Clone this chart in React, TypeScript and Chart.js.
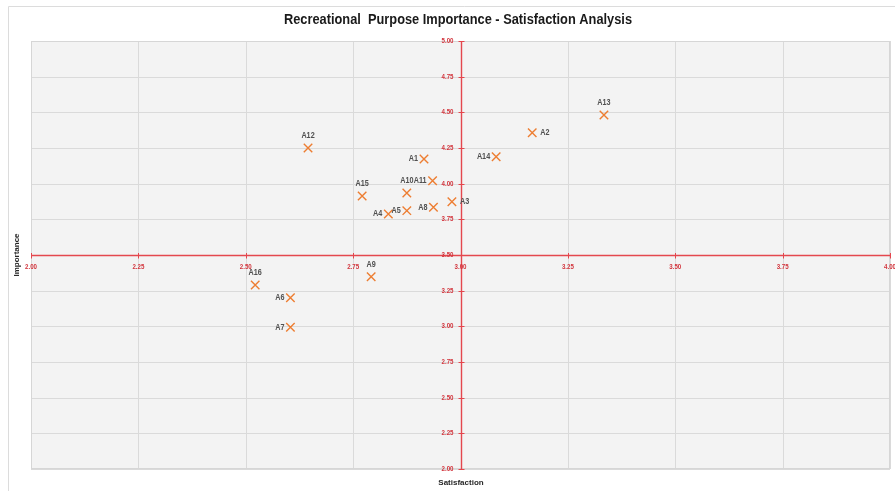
import React, { useEffect, useRef } from 'react';
import { Chart, registerables } from 'chart.js';
Chart.register(...registerables);

const chartTitle = 'Recreational  Purpose Importance - Satisfaction Analysis';
const xTitle = 'Satisfaction';
const yTitle = 'Importance';

const pointNames = ['A1', 'A2', 'A3', 'A4', 'A5', 'A6', 'A7', 'A8', 'A9', 'A10', 'A11', 'A12', 'A13', 'A14', 'A15', 'A16'];
const satisfaction = [2.915, 3.167, 2.98, 2.832, 2.875, 2.604, 2.604, 2.937, 2.792, 2.875, 2.935, 2.645, 3.334, 3.083, 2.771, 2.522];
const importance = [4.173, 4.357, 3.874, 3.788, 3.811, 3.201, 2.994, 3.835, 3.348, 3.935, 4.021, 4.25, 4.481, 4.189, 3.914, 3.29];
const labelSides = ['left', 'right', 'right', 'left', 'left', 'left', 'left', 'left', 'top', 'top', 'left', 'top', 'top', 'left', 'top', 'top'];

const xRange = [2, 4];
const yRange = [2, 5];
const xCross = 3.5; // x axis drawn at importance 3.5
const yCross = 3.0; // y axis drawn at satisfaction 3.0
const step = 0.25;

const RED = '#d2343c';
const AXIS_RED = '#e4474e';
const ORANGE = '#ED7D31';
const GRID = '#dadada';
const FONT = '"Liberation Sans", Arial, sans-serif';

function drawCondensed(ctx: any, text: string, x: number, y: number, align: string, sx: number) {
  ctx.save();
  ctx.translate(x, y);
  ctx.scale(sx, 1);
  ctx.textAlign = align;
  ctx.fillText(text, 0, 0);
  ctx.restore();
}

const bgPlugin = {
  id: 'bgPlugin',
  beforeDraw(chart: any) {
    const { ctx, chartArea } = chart;
    ctx.save();
    ctx.fillStyle = '#ffffff';
    ctx.fillRect(0, 0, chart.width, chart.height);
    // outer frame
    ctx.strokeStyle = '#dcdcdc';
    ctx.lineWidth = 1;
    ctx.beginPath();
    ctx.moveTo(8.5, chart.height);
    ctx.lineTo(8.5, 6.5);
    ctx.lineTo(chart.width, 6.5);
    ctx.stroke();
    // plot area
    ctx.fillStyle = '#f3f3f3';
    ctx.fillRect(chartArea.left, chartArea.top, chartArea.right - chartArea.left, chartArea.bottom - chartArea.top);
    // title, condensed to the reference width
    ctx.fillStyle = '#1a1a1a';
    ctx.font = 'bold 14px ' + FONT;
    ctx.textBaseline = 'middle';
    const w = ctx.measureText(chartTitle).width;
    drawCondensed(ctx, chartTitle, 458, 20, 'center', 348 / w);
    // axis titles
    ctx.font = 'bold 8px ' + FONT;
    ctx.fillStyle = '#262626';
    ctx.textAlign = 'center';
    ctx.fillText(xTitle, (chartArea.left + chartArea.right) / 2 + 0.5, 483);
    ctx.translate(17, (chartArea.top + chartArea.bottom) / 2);
    ctx.rotate(-Math.PI / 2);
    ctx.fillText(yTitle, 0, 0);
    ctx.restore();
  },
};

const axisPlugin = {
  id: 'axisPlugin',
  beforeDatasetsDraw(chart: any) {
    const { ctx, chartArea } = chart;
    const xs = chart.scales.x;
    const ys = chart.scales.y;
    const axisX = Math.round(xs.getPixelForValue(yCross)) + 0.5;
    const axisY = Math.round(ys.getPixelForValue(xCross)) + 0.5;
    ctx.save();
    // grid
    ctx.strokeStyle = GRID;
    ctx.lineWidth = 1;
    ctx.beginPath();
    xs.ticks.forEach((t: any) => {
      const px = Math.round(xs.getPixelForValue(t.value)) + 0.5;
      if (Math.abs(px - axisX) < 1) return;
      ctx.moveTo(px, chartArea.top);
      ctx.lineTo(px, chartArea.bottom);
    });
    ys.ticks.forEach((t: any) => {
      const py = Math.round(ys.getPixelForValue(t.value)) + 0.5;
      if (Math.abs(py - axisY) < 1) return;
      ctx.moveTo(chartArea.left, py);
      ctx.lineTo(chartArea.right, py);
    });
    ctx.stroke();
    ctx.strokeStyle = '#d6d6d6';
    ctx.strokeRect(chartArea.left + 0.5, chartArea.top + 0.5, chartArea.right - chartArea.left - 1, chartArea.bottom - chartArea.top - 1);

    // axis lines
    ctx.strokeStyle = AXIS_RED;
    ctx.lineWidth = 1.4;
    ctx.beginPath();
    ctx.moveTo(chartArea.left, axisY);
    ctx.lineTo(chartArea.right, axisY);
    ctx.moveTo(axisX, chartArea.top);
    ctx.lineTo(axisX, chartArea.bottom);
    ctx.stroke();
    // tick marks crossing the axes
    ctx.lineWidth = 1;
    ctx.beginPath();
    xs.ticks.forEach((t: any) => {
      const px = Math.round(xs.getPixelForValue(t.value)) + 0.5;
      ctx.moveTo(px, axisY - 2.5);
      ctx.lineTo(px, axisY + 3);
    });
    ys.ticks.forEach((t: any) => {
      const py = Math.round(ys.getPixelForValue(t.value)) + 0.5;
      ctx.moveTo(axisX - 3, py);
      ctx.lineTo(axisX + 3, py);
    });
    ctx.stroke();
    // tick labels
    ctx.fillStyle = RED;
    ctx.font = 'bold 7.5px ' + FONT;
    ctx.textBaseline = 'middle';
    xs.ticks.forEach((t: any) => {
      const px = xs.getPixelForValue(t.value);
      drawCondensed(ctx, Number(t.value).toFixed(2), px, axisY + 11, 'center', 0.82);
    });
    ys.ticks.forEach((t: any) => {
      const py = ys.getPixelForValue(t.value);
      drawCondensed(ctx, Number(t.value).toFixed(2), axisX - 8, py, 'right', 0.82);
    });
    ctx.restore();
  },
};

const labelPlugin = {
  id: 'labelPlugin',
  afterDatasetsDraw(chart: any) {
    const { ctx } = chart;
    const meta = chart.getDatasetMeta(0);
    ctx.save();
    ctx.font = 'bold 8.5px ' + FONT;
    ctx.fillStyle = '#505050';
    ctx.textBaseline = 'middle';
    meta.data.forEach((el: any, i: number) => {
      const side = labelSides[i];
      const name = pointNames[i];
      if (side === 'top') {
        drawCondensed(ctx, name, el.x, el.y - 12, 'center', 0.85);
      } else if (side === 'right') {
        drawCondensed(ctx, name, el.x + 8, el.y, 'left', 0.85);
      } else {
        drawCondensed(ctx, name, el.x - 6, el.y, 'right', 0.85);
      }
    });
    ctx.restore();
  },
};

export default function App() {
  const ref = useRef<HTMLCanvasElement>(null);
  useEffect(() => {
    const canvas = ref.current!;
    const chart = new Chart(canvas, {
      type: 'scatter',
      data: {
        datasets: [
          {
            data: pointNames.map((_, i) => ({ x: satisfaction[i], y: importance[i] })),
            pointStyle: 'crossRot',
            radius: 6,
            hoverRadius: 6,
            borderColor: ORANGE,
            backgroundColor: ORANGE,
            borderWidth: 1.4,
          },
        ],
      },
      options: {
        responsive: false,
        animation: false,
        devicePixelRatio: 1,
        layout: { padding: { left: 31, top: 41, right: 30, bottom: 22 } },
        plugins: { legend: { display: false }, title: { display: false }, tooltip: { enabled: false } },
        scales: {
          x: {
            type: 'linear',
            min: xRange[0],
            max: xRange[1],
            position: { y: xCross } as any,
            ticks: { stepSize: step, autoSkip: false, maxRotation: 0, display: false },
            grid: { display: false },
            border: { display: false },
          },
          y: {
            type: 'linear',
            min: yRange[0],
            max: yRange[1],
            position: { x: yCross } as any,
            ticks: { stepSize: step, autoSkip: false, display: false },
            grid: { display: false },
            border: { display: false },
          },
        },
      },
      plugins: [bgPlugin, axisPlugin, labelPlugin],
    });
    return () => chart.destroy();
  }, []);
  return (
    <div style={{ position: 'absolute', left: 0, top: 0, width: 895, height: 491, overflow: 'hidden', background: '#fff' }}>
      <canvas ref={ref} width={920} height={491} style={{ display: 'block' }} />
    </div>
  );
}
